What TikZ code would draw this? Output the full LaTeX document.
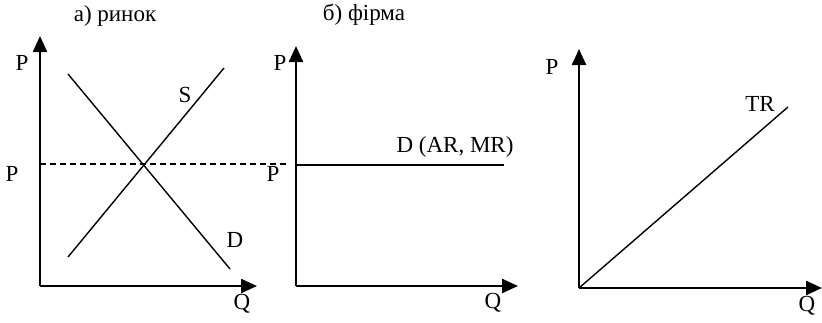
\documentclass[tikz,border=0pt]{standalone}
\usepackage{fontspec}
\setmainfont{Liberation Serif}
\usetikzlibrary{arrows.meta}
\begin{document}
\begin{tikzpicture}[x=1pt,y=-1pt,
  axis/.style={line width=2.4pt,-{Triangle[length=16pt,width=14pt]}},
  curve/.style={line width=1.4pt},
  dashline/.style={line width=1.4pt,dash pattern=on 6pt off 4pt},
  lbl/.style={inner sep=0pt,font=\fontsize{23}{26}\selectfont}]
\useasboundingbox (0,0) rectangle (822,322);
% panel a
\coordinate (ao) at (40,286);
\coordinate (ay) at (40,36);
\coordinate (ax) at (257,286);
\draw[axis] (ao) -- (ay);
\draw[axis] (ao) -- (ax);
\coordinate (s1) at (68,257); \coordinate (s2) at (224,68);
\coordinate (d1) at (68,74); \coordinate (d2) at (230,269);
\draw[curve] (s1) -- (s2);
\draw[curve] (d1) -- (d2);
\coordinate (pl) at (40,164); \coordinate (pr) at (288,164);
\draw[dashline] (pl) -- (pr);
\node[lbl] (ta) at (115,16) {а) ринок};
\node[lbl] (apy) at (22,63) {P};
\node[lbl] (ap) at (12,174) {P};
\node[lbl] (as) at (185,95) {S};
\node[lbl] (ad) at (235,240) {D};
\node[lbl] (aq) at (242,304) {Q};
% panel b
\coordinate (bo) at (296,286);
\coordinate (by) at (296,46);
\coordinate (bx) at (518,286);
\draw[axis] (bo) -- (by);
\draw[axis] (bo) -- (bx);
\coordinate (bl) at (296,165); \coordinate (br) at (504,165);
\draw[curve] (bl) -- (br);
\node[lbl] (tb) at (364,15) {б) фірма};
\node[lbl] (bpy) at (280,63) {P};
\node[lbl] (bp) at (273,174) {P};
\node[lbl] (bd) at (455,147) {D (AR, MR)};
\node[lbl] (bq) at (493,303) {Q};
% panel c
\coordinate (co) at (579,288);
\coordinate (cy) at (579,49);
\coordinate (cx) at (822,288);
\draw[axis] (co) -- (cy);
\draw[axis] (co) -- (cx);
\coordinate (ct) at (788,107);
\draw[curve] (co) -- (ct);
\node[lbl] (cpy) at (552,67) {P};
\node[lbl] (ctr) at (760,104) {TR};
\node[lbl] (cq) at (807,306) {Q};
\end{tikzpicture}
\end{document}
